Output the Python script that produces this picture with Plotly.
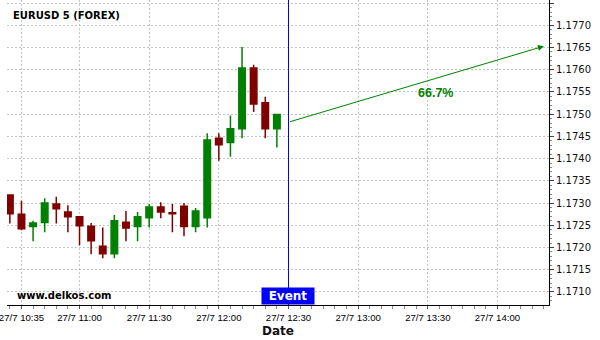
import plotly.graph_objects as go

# ---- data ----
times = ["2017-07-27 10:30", "2017-07-27 10:35", "2017-07-27 10:40", "2017-07-27 10:45",
         "2017-07-27 10:50", "2017-07-27 10:55", "2017-07-27 11:00", "2017-07-27 11:05",
         "2017-07-27 11:10", "2017-07-27 11:15", "2017-07-27 11:20", "2017-07-27 11:25",
         "2017-07-27 11:30", "2017-07-27 11:35", "2017-07-27 11:40", "2017-07-27 11:45",
         "2017-07-27 11:50", "2017-07-27 11:55", "2017-07-27 12:00", "2017-07-27 12:05",
         "2017-07-27 12:10", "2017-07-27 12:15", "2017-07-27 12:20", "2017-07-27 12:25"]
opens = [1.17318, 1.17275, 1.17247, 1.17256, 1.17298, 1.17280, 1.17269, 1.17248,
         1.17203, 1.17186, 1.17257, 1.17247, 1.17267, 1.17291, 1.17278, 1.17293,
         1.17247, 1.17267, 1.17446, 1.17436, 1.17467, 1.17604, 1.17526, 1.17467]
highs = [1.17320, 1.17305, 1.17260, 1.17311, 1.17314, 1.17295, 1.17270, 1.17255,
         1.17245, 1.17273, 1.17282, 1.17280, 1.17298, 1.17302, 1.17298, 1.17300,
         1.17289, 1.17457, 1.17457, 1.17497, 1.17651, 1.17611, 1.17539, 1.17500]
lows = [1.17254, 1.17239, 1.17214, 1.17234, 1.17254, 1.17234, 1.17205, 1.17185,
        1.17176, 1.17176, 1.17214, 1.17214, 1.17245, 1.17266, 1.17234, 1.17225,
        1.17234, 1.17245, 1.17395, 1.17404, 1.17446, 1.17505, 1.17446, 1.17425]
closes = [1.17276, 1.17242, 1.17255, 1.17300, 1.17287, 1.17269, 1.17249, 1.17215,
          1.17186, 1.17260, 1.17244, 1.17269, 1.17291, 1.17280, 1.17276, 1.17247,
          1.17282, 1.17442, 1.17431, 1.17467, 1.17604, 1.17523, 1.17467, 1.17499]

event_time = "2017-07-27 12:30"
arrow_start_time, arrow_start_price = "2017-07-27 12:30", 1.17482
arrow_end_time, arrow_end_price = "2017-07-27 14:20", 1.17653
prob_text = "66.7%"
prob_time, prob_price = "2017-07-27 13:33:20", 1.17548

x_tickvals = ["2017-07-27 10:35", "2017-07-27 11:00", "2017-07-27 11:30", "2017-07-27 12:00",
              "2017-07-27 12:30", "2017-07-27 13:00", "2017-07-27 13:30", "2017-07-27 14:00"]
x_ticktext = ["27/7 10:35", "27/7 11:00", "27/7 11:30", "27/7 12:00",
              "27/7 12:30", "27/7 13:00", "27/7 13:30", "27/7 14:00"]
x_range = ["2017-07-27 10:28:46", "2017-07-27 14:22:12"]
y_range = [1.170705, 1.17757]

GREEN = "#008000"
RED = "#800000"
GRID = "#c4c4c4"

fig = go.Figure()
fig.add_trace(go.Candlestick(
    x=times, open=opens, high=highs, low=lows, close=closes,
    increasing=dict(line=dict(color=GREEN, width=1.5), fillcolor=GREEN),
    decreasing=dict(line=dict(color=RED, width=1.5), fillcolor=RED),
    whiskerwidth=0, showlegend=False, hoverinfo="skip",
))

fig.update_layout(
    width=600, height=340,
    margin=dict(l=7, r=51, t=0, b=35),
    paper_bgcolor="white", plot_bgcolor="white",
    boxgap=0.2,
    font=dict(family="DejaVu Sans", size=10, color="#111111"),
    showlegend=False,
)

fig.update_xaxes(
    type="date", range=x_range, rangeslider_visible=False,
    tickvals=x_tickvals, ticktext=x_ticktext, ticklabeloverflow="allow",
    tickfont=dict(family="Liberation Sans", size=9.6, color="#000000"),
    ticks="outside", ticklen=3, tickcolor="#555555",
    minor=dict(dtick=300000, tick0="2017-07-27 10:00", ticks="outside", ticklen=3,
               tickcolor="#888888", showgrid=False),
    showline=True, linecolor="black", linewidth=1,
    showgrid=True, gridcolor=GRID, griddash="2px,2px", gridwidth=1,
    zeroline=False,
    title=dict(text="<b>Date</b>", font=dict(family="DejaVu Sans", size=12, color="#111111"),
               standoff=5),
)

fig.update_yaxes(
    side="right", range=y_range, dtick=0.0005, tick0=1.17, tickformat=".4f",
    tickfont=dict(family="DejaVu Sans", size=10, color="#111111"),
    ticks="outside", ticklen=4, tickcolor="#444444",
    minor=dict(dtick=0.0001, ticks="outside", ticklen=2, tickcolor="#888888", showgrid=False),
    showline=True, linecolor="black", linewidth=1,
    showgrid=True, gridcolor=GRID, griddash="2px,2px", gridwidth=1,
    zeroline=False,
)

# event vertical line
fig.add_shape(type="line", xref="x", yref="paper", x0=event_time, x1=event_time, y0=0, y1=1,
              line=dict(color="#0000dd", width=1))

# forecast arrow
fig.add_annotation(x=arrow_end_time, y=arrow_end_price, ax=arrow_start_time, ay=arrow_start_price,
                   xref="x", yref="y", axref="x", ayref="y", text="", showarrow=True,
                   arrowhead=2, arrowsize=1.2, arrowwidth=1, arrowcolor=GREEN)

fig.add_annotation(x=prob_time, y=prob_price, xref="x", yref="y", text="<b>" + prob_text + "</b>",
                   showarrow=False, font=dict(family="Liberation Sans", size=12.5, color=GREEN))

# event label
fig.add_annotation(x=event_time, y=0, xref="x", yref="paper", yanchor="bottom",
                   text="<b>Event</b>", showarrow=False, bgcolor="#0000ff",
                   width=50, height=14, borderpad=1,
                   font=dict(family="DejaVu Sans", size=12, color="white"))

# title & watermark
fig.add_annotation(x=0, y=1, xref="paper", yref="paper", xanchor="left", yanchor="middle",
                   xshift=4, yshift=-15, text="<b>EURUSD 5 (FOREX)</b>", showarrow=False,
                   font=dict(family="DejaVu Sans", size=10, color="#000000"))
fig.add_annotation(x=0, y=0, xref="paper", yref="paper", xanchor="left", yanchor="middle",
                   xshift=8, yshift=10, text="<b>www.delkos.com</b>", showarrow=False,
                   font=dict(family="DejaVu Sans", size=10, color="#000000"))

fig.write_html("out.html")
